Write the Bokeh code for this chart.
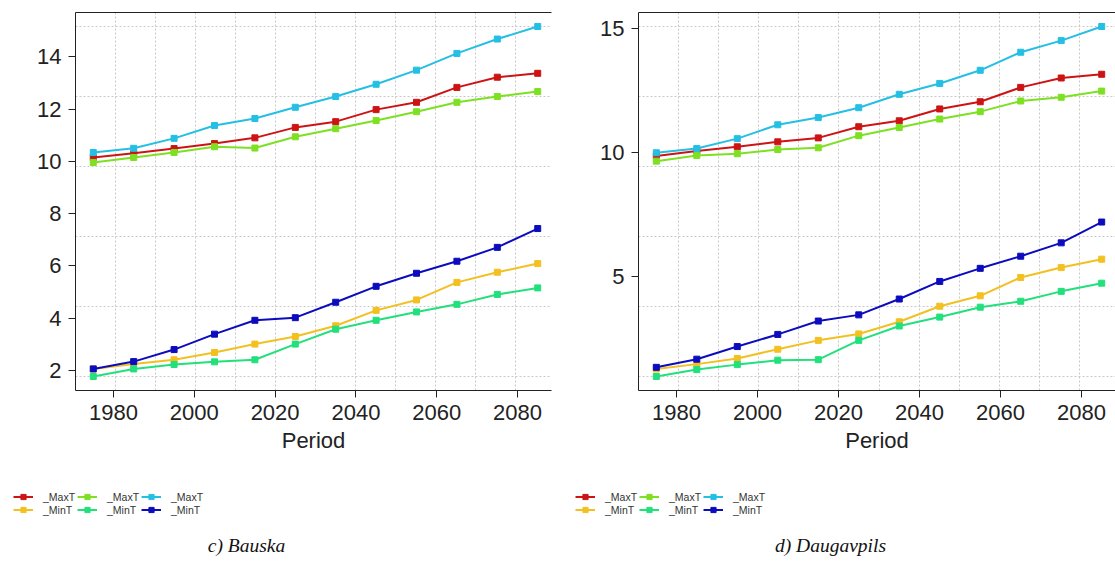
import numpy as np
from bokeh.plotting import figure
from bokeh.models import (FixedTicker, LinearAxis, Legend, LegendItem, Label, Range1d)
from bokeh.layouts import row, column
from bokeh.embed import file_html
from bokeh.resources import INLINE

# ---------------- data ----------------
periods = [1975, 1985, 1995, 2005, 2015, 2025, 2035, 2045, 2055, 2065, 2075, 2085]

series_labels = ["_MaxT", "_MaxT", "_MaxT", "_MinT", "_MinT", "_MinT"]
series_colors = ["#CC1414", "#7EE022", "#25BFE4", "#F2C020", "#22E07C", "#0C0CBE"]

bauska_maxt_1 = [10.15, 10.31, 10.49, 10.68, 10.90, 11.30, 11.52, 11.98, 12.26, 12.83, 13.22, 13.37]
bauska_maxt_2 = [9.96, 10.15, 10.34, 10.56, 10.51, 10.94, 11.25, 11.56, 11.90, 12.26, 12.48, 12.67]
bauska_maxt_3 = [10.34, 10.50, 10.88, 11.37, 11.64, 12.07, 12.48, 12.95, 13.49, 14.13, 14.68, 15.16]
bauska_mint_1 = [2.06, 2.25, 2.41, 2.69, 3.01, 3.30, 3.71, 4.30, 4.70, 5.37, 5.76, 6.09]
bauska_mint_2 = [1.77, 2.06, 2.23, 2.33, 2.41, 3.01, 3.58, 3.92, 4.24, 4.53, 4.91, 5.16]
bauska_mint_3 = [2.06, 2.34, 2.80, 3.39, 3.92, 4.02, 4.61, 5.22, 5.72, 6.18, 6.71, 7.43]

daug_maxt_1 = [9.87, 10.07, 10.24, 10.44, 10.60, 11.05, 11.29, 11.77, 12.06, 12.64, 13.02, 13.17]
daug_maxt_2 = [9.66, 9.89, 9.96, 10.13, 10.20, 10.69, 11.02, 11.36, 11.66, 12.09, 12.24, 12.49]
daug_maxt_3 = [10.00, 10.17, 10.57, 11.13, 11.42, 11.82, 12.36, 12.80, 13.33, 14.06, 14.53, 15.10]
daug_mint_1 = [1.26, 1.46, 1.69, 2.06, 2.42, 2.68, 3.17, 3.80, 4.22, 4.96, 5.36, 5.70]
daug_mint_2 = [0.96, 1.24, 1.44, 1.62, 1.64, 2.42, 3.00, 3.36, 3.76, 4.00, 4.40, 4.73]
daug_mint_3 = [1.33, 1.66, 2.17, 2.66, 3.20, 3.45, 4.09, 4.80, 5.33, 5.82, 6.36, 7.20]

x_ticks = [1980, 2000, 2020, 2040, 2060, 2080]
bauska_y_ticks = [2, 4, 6, 8, 10, 12, 14]
daug_y_ticks = [5, 10, 15]

captions = ["c) Bauska", "d) Daugavpils"]
x_axis_label = "Period"

bauska_series = [bauska_maxt_1, bauska_maxt_2, bauska_maxt_3, bauska_mint_1, bauska_mint_2, bauska_mint_3]
daug_series = [daug_maxt_1, daug_maxt_2, daug_maxt_3, daug_mint_1, daug_mint_2, daug_mint_3]

SANS = "Liberation Sans"
SERIF = "Liberation Serif"


def main_panel(series, yticks, width, height, border_left, border_right, border_top, frame_h):
    xs = np.array(periods, dtype=float)
    xr = xs.max() - xs.min()
    x0 = xs.min() - 0.04 * xr
    x1 = xs.max() + 0.031 * xr
    allv = np.concatenate([np.array(s) for s in series])
    ymin, ymax = allv.min(), allv.max()
    yr = ymax - ymin
    y0, y1 = ymin - 0.04 * yr, ymax + 0.04 * yr

    p = figure(width=width, height=height, output_backend="svg", toolbar_location=None,
               x_range=Range1d(x0, x1), y_range=Range1d(y0, y1),
               min_border_left=border_left, min_border_right=border_right,
               min_border_top=border_top,
               min_border_bottom=height - border_top - frame_h)
    p.outline_line_color = None
    p.background_fill_color = "white"

    xfull = xr * 1.08
    vgrid = [x0 + k * xfull / 12 for k in range(1, 12)]
    hgrid = list(np.linspace(ymin, ymax, 6))
    p.xgrid.ticker = FixedTicker(ticks=vgrid)
    p.ygrid.ticker = FixedTicker(ticks=hgrid)
    for g in (p.xgrid, p.ygrid):
        g.grid_line_color = "#C8C8C8"
        g.grid_line_dash = "2 2"
        g.grid_line_width = 1

    for ax in (p.xaxis, p.yaxis):
        ax.axis_line_color = "#222222"
        ax.major_tick_line_color = "#222222"
        ax.major_tick_in = 0
        ax.major_tick_out = 7
        ax.minor_tick_line_color = None
        ax.major_label_text_font = SANS
        ax.major_label_text_font_size = "22px"
        ax.major_label_text_color = "#222222"
    p.xaxis.ticker = FixedTicker(ticks=x_ticks)
    p.yaxis.ticker = FixedTicker(ticks=yticks)
    p.xaxis.major_label_standoff = 7
    p.yaxis.major_label_standoff = 7
    p.xaxis.axis_label = x_axis_label
    p.xaxis.axis_label_text_font = SANS
    p.xaxis.axis_label_text_font_size = "22px"
    p.xaxis.axis_label_text_font_style = "normal"
    p.xaxis.axis_label_text_color = "#222222"
    p.xaxis.axis_label_standoff = 5

    top = LinearAxis(ticker=FixedTicker(ticks=[]), major_label_text_font_size="0px",
                     major_tick_out=0, major_tick_in=0, minor_tick_out=0, minor_tick_in=0,
                     axis_line_color="#222222")
    p.add_layout(top, "above")

    for vals, col in zip(series, series_colors):
        p.line(periods, vals, line_color=col, line_width=2)
        p.scatter(periods, vals, marker="square", size=6, fill_color=col, line_color=col)
    return p


MAIN_H = 468
BOT_H = 90
TOTAL_W = 1115

left_main = main_panel(bauska_series, bauska_y_ticks, 560, MAIN_H, 75, 9, 8, 382)
right_main = main_panel(daug_series, daug_y_ticks, 555, MAIN_H, 78, 0, 12, 381)

# bottom strip: legends and captions, in pixel-aligned units
bot = figure(width=TOTAL_W, height=BOT_H, output_backend="svg", toolbar_location=None,
             x_range=Range1d(0, TOTAL_W), y_range=Range1d(0, BOT_H),
             x_axis_type=None, y_axis_type=None, min_border=0)
bot.outline_line_color = None
bot.grid.visible = False

legend_specs = [(bauska_series, 13), (daug_series, 575)]
for series, lx in legend_specs:
    items = []
    # legend renderers use the real series (they fall outside this strip's range)
    for vals, lab, col in zip(series, series_labels, series_colors):
        r1 = bot.line(periods, vals, line_color=col, line_width=2)
        r2 = bot.scatter(periods, vals, marker="square", size=6, fill_color=col, line_color=col)
        items.append(LegendItem(label=lab, renderers=[r1, r2]))
    leg = Legend(items=items, orientation="horizontal", ncols=3,
                 location=(lx, BOT_H - 22 - 26),
                 glyph_width=20, glyph_height=13, label_height=13, label_width=34,
                 label_standoff=10, spacing=0, padding=0, margin=0,
                 border_line_color=None, background_fill_alpha=0,
                 label_text_font=SANS, label_text_font_size="10.5px",
                 label_text_color="#333333")
    bot.add_layout(leg, "center")

for cap, cx in zip(captions, [246, 830]):
    bot.add_layout(Label(x=cx, y=BOT_H - 77, text=cap, text_font=SERIF,
                         text_font_style="italic", text_font_size="19.5px",
                         anchor="center", text_color="#111111"))

layout = column(row(left_main, right_main, spacing=0), bot, spacing=0)

open("out.html", "w").write(file_html(layout, INLINE))
